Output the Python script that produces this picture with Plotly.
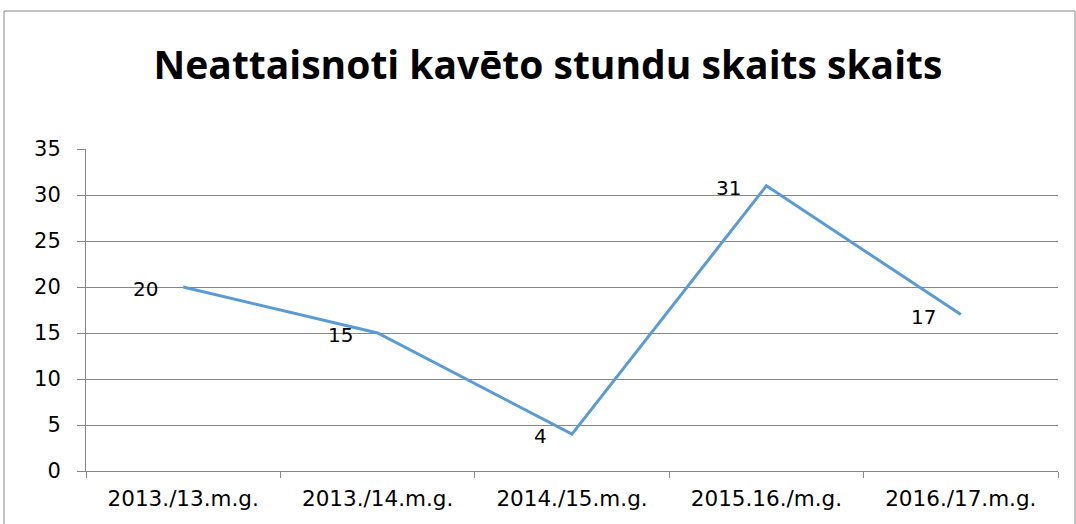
import plotly.graph_objects as go

categories = ["2013./13.m.g.", "2013./14.m.g.", "2014./15.m.g.", "2015.16./m.g.", "2016./17.m.g."]
values = [20, 15, 4, 31, 17]
title_text = "Neattaisnoti kavēto stundu skaits skaits"

FONT = "'DejaVu Sans', sans-serif"
TFONT = "'Open Sans', sans-serif"
W, H = 1076, 524
L, R, T, B = 86, 18, 149, 53
pw, ph = W - L - R, H - T - B

fig = go.Figure()
fig.add_trace(go.Scatter(
    x=categories, y=values, mode="lines",
    line=dict(color="#5B9BD5", width=3),
    hoverinfo="skip"
))

for c, v in zip(categories, values):
    fig.add_annotation(x=c, y=v, text=str(v), showarrow=False,
                       xanchor="right", yanchor="middle", xshift=-23, yshift=-2,
                       font=dict(family=FONT, size=20, color="#000000"))

fig.update_layout(
    width=W, height=H,
    margin=dict(l=L, r=R, t=T, b=B, autoexpand=False),
    paper_bgcolor="white", plot_bgcolor="white",
    showlegend=False,
    title=dict(text="<b>" + title_text + "</b>", xref="container", x=548 / W, xanchor="center",
               yref="container", y=1 - 65 / H, yanchor="middle",
               font=dict(family=TFONT, size=39, color="#000000")),
    xaxis=dict(type="category", tickson="boundaries", ticks="outside", ticklen=6,
               tickcolor="#868686", showline=True, linecolor="#868686", linewidth=1,
               showgrid=False, tickfont=dict(family=FONT, size=21.5, color="#000000"),
               ticklabelstandoff=8,
               range=[-0.5, 4.5], automargin=False),
    yaxis=dict(range=[0, 35], dtick=5, ticks="outside", ticklen=8, tickcolor="#868686",
               showline=True, linecolor="#868686", linewidth=1,
               showgrid=True, gridcolor="#868686", gridwidth=1, zeroline=False,
               tickfont=dict(family=FONT, size=21, color="#000000"),
               ticklabelstandoff=12, automargin=False),
)

fig.add_shape(type="rect", xref="paper", yref="paper",
              x0=(4 - L) / pw, x1=(1075 - L) / pw,
              y0=-0.5, y1=1 + (T - 11) / ph,
              line=dict(color="#868686", width=1), layer="below")

fig.write_html("out.html", config={"displayModeBar": False},
               post_script="document.body.style.margin='0';document.body.style.overflow='hidden';")
